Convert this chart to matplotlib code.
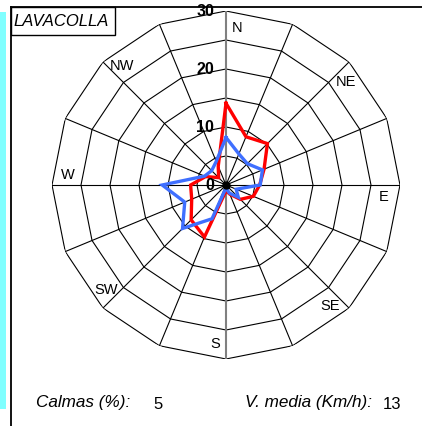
import numpy as np
import matplotlib
matplotlib.use("Agg")
import matplotlib.pyplot as plt
from matplotlib.patches import Rectangle
from matplotlib.lines import Line2D

plt.rcParams['font.family'] = ['Liberation Sans', 'DejaVu Sans']

# ---- data ----
directions = ["N", "NNE", "NE", "ENE", "E", "ESE", "SE", "SSE",
              "S", "SSW", "SW", "WSW", "W", "WNW", "NW", "NNW"]
red_values = [14.1, 9.0, 10.1, 7.1, 5.8, 5.1, 3.5, 1.7,
              1.0, 9.7, 8.5, 6.4, 6.1, 3.8, 1.8, 3.5]
blue_values = [8.2, 5.8, 5.2, 6.8, 5.9, 1.9, 3.0, 1.5,
               0.5, 6.3, 10.6, 7.7, 11.0, 4.0, 3.5, 4.4]
ring_values = [5, 10, 15, 20, 25, 30]
ring_labels = ["0", "10", "20", "30"]
label_dirs = ["N", "NE", "E", "SE", "S", "SW", "W", "NW"]
station = "LAVACOLLA"
calmas = "5"
v_media = "13"

W, H = 422, 427
fig = plt.figure(figsize=(W / 100, H / 100), dpi=100)

def fx(px):
    return px / W

def fy(py):
    return 1 - py / H

fig.patches.append(Rectangle((0, fy(410)), fx(5.5), fy(13) - fy(410),
                             transform=fig.transFigure, facecolor='#80FFFF',
                             edgecolor='none', zorder=0))
fig.lines.append(Line2D([fx(10.5), fx(10.5)], [fy(8), 0], transform=fig.transFigure,
                        color='black', lw=1.3))
fig.lines.append(Line2D([fx(10.5), 1], [fy(8), fy(8)], transform=fig.transFigure,
                        color='black', lw=1.3))
fig.patches.append(Rectangle((fx(10.5), fy(36)), fx(115) - fx(10.5), fy(8) - fy(36),
                             transform=fig.transFigure, facecolor='white',
                             edgecolor='black', lw=1.0, zorder=3))
fig.text(fx(13), fy(22), station, fontsize=12, style='italic', ha='left', va='center',
         zorder=4)

fig.text(fx(36), fy(403), "Calmas (%):", fontsize=12.3, style='italic', ha='left', va='center')
fig.text(fx(153), fy(405), calmas, fontsize=12, ha='left', va='center')
fig.text(fx(245), fy(403), "V. media (Km/h):", fontsize=12.3, style='italic', ha='left', va='center')
fig.text(fx(383), fy(405), v_media, fontsize=12, ha='left', va='center')

# polar axes
cx, cy, R = 226, 186, 174
ax = fig.add_axes([fx(cx - R), fy(cy + R), 2 * R / W, 2 * R / H], projection='polar')
ax.set_theta_zero_location('N')
ax.set_theta_direction(-1)
ax.set_ylim(0, 30)
ax.grid(False)
ax.set_xticks([])
ax.set_yticks([])
ax.spines['polar'].set_visible(False)
ax.patch.set_alpha(0)

n = len(directions)
theta = np.deg2rad(np.arange(n) * 360.0 / n)
theta_c = np.append(theta, theta[0])

for rv in ring_values:
    ax.plot(theta_c, [rv] * (n + 1), color='black', lw=0.8, zorder=1)
for i, t in enumerate(theta):
    if directions[i] in ("N", "S"):
        continue
    ax.plot([t, t], [0, 30], color='black', lw=0.8, zorder=1)
ax.plot([0, 0], [0, 30], color='#808080', lw=1.5, zorder=1)
ax.plot([np.pi, np.pi], [0, 30], color='#808080', lw=1.5, zorder=1)

ax.plot(theta_c, red_values + red_values[:1], color='#FF0000', lw=2.4, zorder=3,
        solid_joinstyle='miter')
ax.plot(theta_c, blue_values + blue_values[:1], color='#3F6FFF', lw=2.4, zorder=4,
        solid_joinstyle='miter')
ax.plot([0], [0], marker='o', color='black', ms=5, zorder=5)

for lab in label_dirs:
    i = directions.index(lab)
    ax.text(theta[i] + np.deg2rad(4), 27.3, lab, fontsize=10.5, ha='center', va='center',
            zorder=6)

for lab in ring_labels:
    v = float(lab)
    ax.annotate(lab, xy=(0, v), xytext=(-12, 0), textcoords='offset pixels',
                fontsize=11.5, fontweight='bold', ha='right', va='center', zorder=6)

fig.savefig("out.png", dpi=100)
